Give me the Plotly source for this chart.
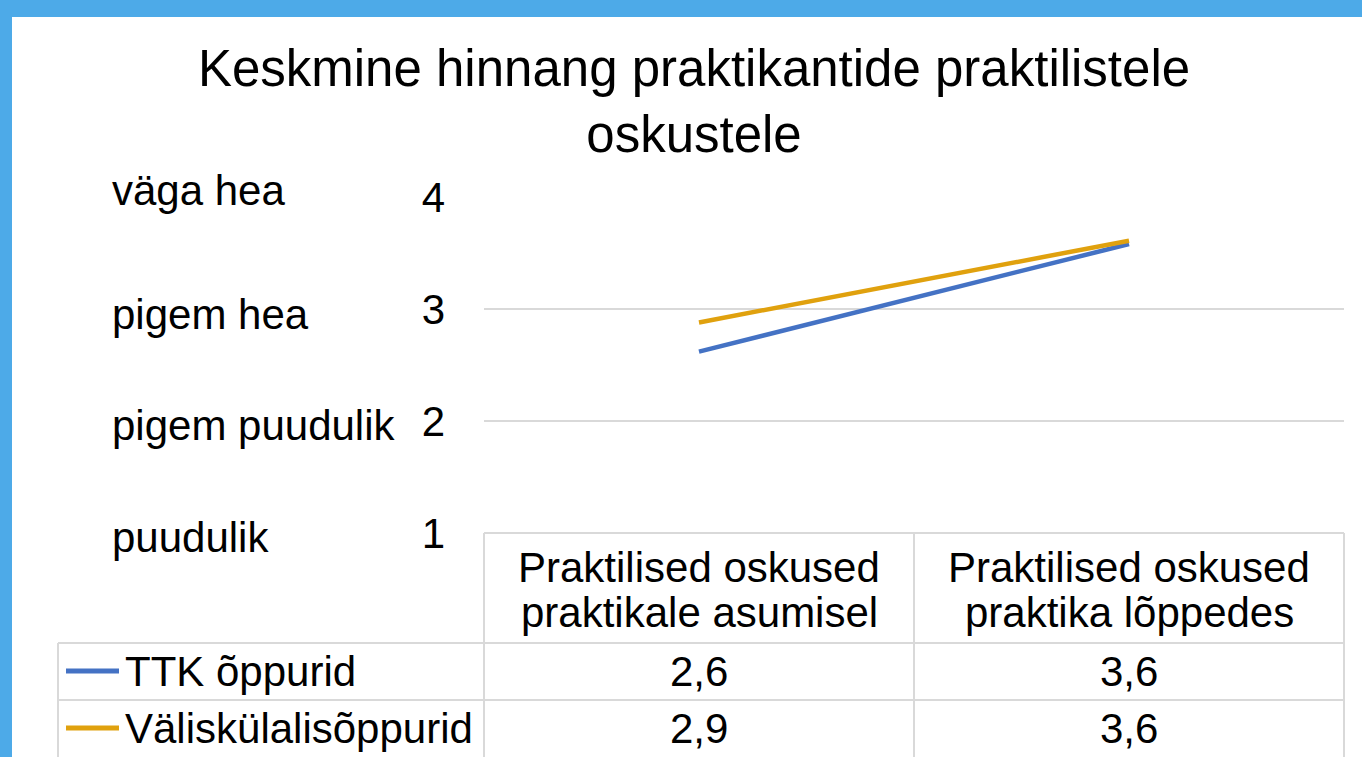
import plotly.graph_objects as go

# ---------------- data ----------------
categories = ["Praktilised oskused praktikale asumisel", "Praktilised oskused praktika lõppedes"]
header_lines = [["Praktilised oskused", "praktikale asumisel"],
                ["Praktilised oskused", "praktika lõppedes"]]
series_names = ["TTK õppurid", "Väliskülalisõppurid"]
ttk_values = [2.62, 3.58]
valis_values = [2.88, 3.61]
y_ticks = [1, 2, 3, 4]
y_tick_text = ["1", "2", "3", "4"]
y_labels = ["puudulik", "pigem puudulik", "pigem hea", "väga hea"]
title_text = "Keskmine hinnang praktikantide praktilistele<br>oskustele"

# ---------------- styling ----------------
W, H = 1362, 757
L, R, T, B = 484, 1344, 197, 533
FONT = "Liberation Sans, Arial, sans-serif"
colors = ["#4472C4", "#E0A10E"]
grid = "#D9D9D9"
band = "#4DAAE8"


def px(xp):
    return (xp - L) / (R - L)


def py(yp):
    return (B - yp) / (B - T)


series = [ttk_values, valis_values]

fig = go.Figure()
for name, vals, col in zip(series_names, series, colors):
    fig.add_trace(go.Scatter(x=categories, y=vals, mode="lines", name=name,
                             line=dict(color=col, width=4.5), showlegend=False,
                             hoverinfo="x+y+name"))

shapes = []
# blue frame bands
shapes.append(dict(type="rect", xref="paper", yref="paper", x0=px(0), x1=px(W), y0=py(0), y1=py(17),
                   fillcolor=band, line=dict(width=0), layer="above"))
shapes.append(dict(type="rect", xref="paper", yref="paper", x0=px(0), x1=px(12), y0=py(0), y1=py(H),
                   fillcolor=band, line=dict(width=0), layer="above"))

# data table grid
tline = dict(color=grid, width=2)
for (x0, y0, x1, y1) in [(L, B, R, B), (58, 643, R, 643), (58, 700, R, 700),
                         (L, B, L, H), (914, B, 914, H), (R, B, R, H), (58, 643, 58, H)]:
    shapes.append(dict(type="line", xref="paper", yref="paper", x0=px(x0), x1=px(x1),
                       y0=py(y0), y1=py(y1), line=tline))

annotations = []
# y category labels
label_shift = [-4, -4, -5, 7]
for v, lab, sh in zip(y_ticks, y_labels, label_shift):
    annotations.append(dict(text=lab, xref="paper", yref="y", x=px(110), y=v, xanchor="left",
                            yanchor="middle", yshift=sh, showarrow=False,
                            font=dict(size=42, color="black", family=FONT)))

# table header (category names)
cat_x = [px(699), px(1129)]
for cx, lines in zip(cat_x, header_lines):
    for ly, txt in zip([567, 612], lines):
        annotations.append(dict(text=txt, xref="paper", yref="paper", x=cx, y=py(ly),
                                xanchor="center", yanchor="middle", showarrow=False,
                                font=dict(size=42, color="black", family=FONT)))

# table rows: legend keys + values
row_y = [671, 728]
for ry, name, vals, col in zip(row_y, series_names, series, colors):
    shapes.append(dict(type="line", xref="paper", yref="paper", x0=px(66), x1=px(119),
                       y0=py(ry), y1=py(ry), line=dict(color=col, width=5)))
    annotations.append(dict(text=name, xref="paper", yref="paper", x=px(123), y=py(ry),
                            xanchor="left", yanchor="middle", showarrow=False,
                            font=dict(size=42, color="black", family=FONT)))
    for cx, v in zip(cat_x, vals):
        annotations.append(dict(text=f"{v:.1f}".replace(".", ","), xref="paper", yref="paper",
                                x=cx, y=py(ry), xanchor="center", yanchor="middle",
                                showarrow=False, font=dict(size=42, color="black", family=FONT)))

fig.update_layout(
    width=W, height=H,
    margin=dict(l=L, r=W - R, t=T, b=H - B, pad=0),
    paper_bgcolor="white", plot_bgcolor="white",
    font=dict(family=FONT, color="black"),
    title=dict(text=title_text, x=694 / W, xanchor="center", xref="container",
               yref="container", y=1 - 86 / H, yanchor="top",
               font=dict(size=51, color="black", family=FONT)),
    xaxis=dict(range=[-0.5, 1.5], showticklabels=False, showgrid=False, zeroline=False,
               showline=False, ticks=""),
    yaxis=dict(range=[1, 4], tickvals=y_ticks, ticktext=y_tick_text, showgrid=True,
               gridcolor=grid, gridwidth=1.5, zeroline=False, showline=False, ticks="",
               ticklabelstandoff=38, tickfont=dict(size=42, color="black", family=FONT)),
    shapes=shapes,
    annotations=annotations,
)

fig.write_html("out.html", config={"displayModeBar": False},
               post_script="document.body.style.margin='0px';document.body.style.overflow='hidden';")
